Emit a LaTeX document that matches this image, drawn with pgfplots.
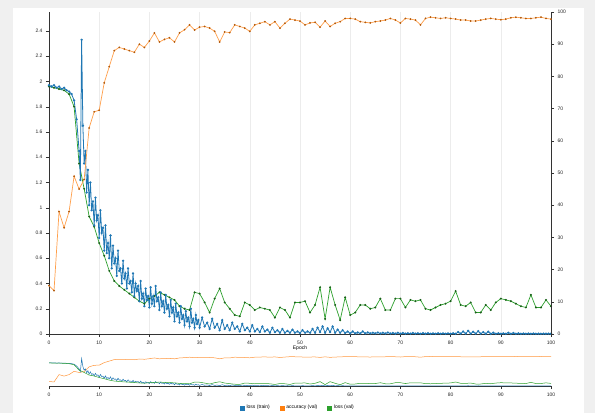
\documentclass[border=0pt]{standalone}
\usepackage{fontspec}
\setmainfont{Liberation Sans}
\usepackage{pgfplots}
\usepackage{pgfplotstable}
\pgfplotsset{compat=1.18}

\definecolor{c3blue}{HTML}{1F77B4}
\definecolor{c3orange}{HTML}{FF7F0E}
\definecolor{c3green}{HTML}{2CA02C}

% training loss, several samples per epoch
\pgfplotstableread{
x y
0 1.97
0.5 1.96
1 1.97
1.5 1.95
2 1.96
2.5 1.94
3 1.95
3.5 1.93
4 1.92
4.5 1.90
5 1.85
5.5 1.70
6 1.45
6.25 1.22
6.5 2.33
6.75 1.65
7 1.35
7.25 1.45
7.5 1.12
7.75 1.30
8 1.02
8.25 1.20
8.5 0.98
8.75 1.05
9 0.86
9.25 1.08
9.5 0.90
9.75 0.94
10 0.76
10.25 0.98
10.5 0.80
10.75 0.84
11 0.66
11.25 0.86
11.5 0.64
11.75 0.72
12 0.60
12.25 0.78
12.5 0.52
12.75 0.70
13 0.56
13.25 0.60
13.5 0.46
13.75 0.66
14 0.50
14.25 0.52
14.5 0.40
14.75 0.58
15 0.44
15.25 0.48
15.5 0.36
15.75 0.52
16 0.40
16.25 0.42
16.5 0.33
16.75 0.48
17 0.30
17.25 0.40
17.5 0.34
17.75 0.38
18 0.26
18.25 0.42
18.5 0.28
18.75 0.32
19 0.22
19.25 0.36
19.5 0.27
19.75 0.30
20 0.21
20.25 0.37
20.5 0.24
20.75 0.30
21 0.22
21.25 0.38
21.5 0.26
21.75 0.29
22 0.19
22.25 0.33
22.5 0.22
22.75 0.26
23 0.17
23.25 0.31
23.5 0.20
23.75 0.23
24 0.14
24.25 0.27
24.5 0.17
24.75 0.21
25 0.10
25.25 0.24
25.5 0.14
25.75 0.17
26 0.09
26.25 0.22
26.5 0.12
26.75 0.15
27 0.07
27.25 0.18
27.5 0.10
27.75 0.13
28 0.06
28.25 0.20
28.5 0.09
28.75 0.12
29 0.05
29.25 0.15
29.5 0.08
29.75 0.11
30 0.05
30.5 0.13
31 0.06
31.5 0.09
32 0.04
32.5 0.12
33 0.05
33.5 0.08
34 0.03
34.5 0.11
35 0.04
35.5 0.07
36 0.03
36.5 0.09
37 0.04
37.5 0.06
38 0.02
38.5 0.08
39 0.03
39.5 0.05
40 0.02
40.5 0.07
41 0.02
41.5 0.04
42 0.015
42.5 0.06
43 0.02
43.5 0.035
44 0.01
44.5 0.05
45 0.015
45.5 0.03
46 0.01
46.5 0.04
47 0.01
47.5 0.025
48 0.01
48.5 0.035
49 0.01
49.5 0.02
50 0.008
50.5 0.03
51 0.01
51.5 0.02
52 0.01
52.5 0.04
53 0.01
53.5 0.05
54 0.015
54.5 0.06
55 0.01
55.5 0.045
56 0.015
56.5 0.06
57 0.01
57.5 0.035
58 0.01
58.5 0.03
59 0.008
59.5 0.02
60 0.005
60.5 0.02
61 0.005
61.5 0.012
62 0.005
62.5 0.02
63 0.005
63.5 0.012
64 0.005
64.5 0.01
65 0.005
65.5 0.012
66 0.004
66.5 0.010
67 0.004
67.5 0.012
68 0.004
68.5 0.008
69 0.003
69.5 0.010
70 0.003
70.5 0.008
71 0.003
71.5 0.006
72 0.003
72.5 0.008
73 0.003
73.5 0.006
74 0.002
74.5 0.007
75 0.002
75.5 0.006
76 0.002
76.5 0.005
77 0.002
77.5 0.006
78 0.002
78.5 0.005
79 0.002
79.5 0.005
80 0.002
80.5 0.006
81 0.002
81.5 0.015
82 0.003
82.5 0.020
83 0.003
83.5 0.025
84 0.003
84.5 0.018
85 0.003
85.5 0.022
86 0.003
86.5 0.015
87 0.002
87.5 0.018
88 0.002
88.5 0.010
89 0.002
89.5 0.006
90 0.002
90.5 0.005
91 0.002
91.5 0.010
92 0.002
92.5 0.008
93 0.002
93.5 0.005
94 0.002
94.5 0.004
95 0.002
95.5 0.004
96 0.002
96.5 0.004
97 0.002
97.5 0.003
98 0.002
98.5 0.003
99 0.002
99.5 0.003
100 0.002
}\losstrain

% validation loss, one per epoch
\pgfplotstableread{
x y
0 1.96
1 1.95
2 1.94
3 1.93
4 1.90
5 1.80
6 1.35
7 1.15
8 0.93
9 0.85
10 0.72
11 0.62
12 0.50
13 0.42
14 0.38
15 0.35
16 0.32
17 0.29
18 0.26
19 0.24
20 0.28
21 0.30
22 0.33
23 0.31
24 0.29
25 0.27
26 0.22
27 0.20
28 0.19
29 0.33
30 0.32
31 0.25
32 0.17
33 0.28
34 0.36
35 0.25
36 0.20
37 0.15
38 0.14
39 0.25
40 0.23
41 0.19
42 0.21
43 0.20
44 0.19
45 0.13
46 0.21
47 0.19
48 0.13
49 0.25
50 0.25
51 0.26
52 0.17
53 0.23
54 0.37
55 0.12
56 0.37
57 0.23
58 0.11
59 0.29
60 0.15
61 0.17
62 0.23
63 0.23
64 0.20
65 0.21
66 0.28
67 0.19
68 0.19
69 0.28
70 0.28
71 0.21
72 0.27
73 0.26
74 0.27
75 0.20
76 0.19
77 0.21
78 0.23
79 0.24
80 0.26
81 0.34
82 0.23
83 0.22
84 0.25
85 0.17
86 0.17
87 0.23
88 0.19
89 0.25
90 0.28
91 0.27
92 0.26
93 0.24
94 0.22
95 0.21
96 0.31
97 0.21
98 0.21
99 0.27
100 0.22
}\lossval

% validation accuracy (%), one per epoch
\pgfplotstableread{
x y
0 15
1 13.5
2 38
3 33
4 38
5 49
6 45
7 48
8 64
9 69
10 69.5
11 78
12 83
13 88
14 89
15 88.5
16 88
17 87.5
18 90
19 89
20 91
21 93.5
22 90.7
23 91.5
24 92
25 90.7
26 93.5
27 94.5
28 96
29 94.4
30 95.3
31 95.5
32 95
33 94
34 90.7
35 93.8
36 93.6
37 96
38 95.5
39 95
40 94
41 96
42 96.5
43 97
44 96
45 97
46 95
47 96.5
48 97.8
49 97.5
50 97.2
51 96
52 96.6
53 96.8
54 95.3
55 97.2
56 95.5
57 96.5
58 97
59 98
60 98
61 97.8
62 97
63 96.8
64 96.6
65 97
66 97.2
67 97.5
68 98
69 97.5
70 96.6
71 98
72 97.8
73 97.5
74 96
75 98
76 98.4
77 98.2
78 98
79 98.2
80 98
81 97.8
82 97.5
83 97.5
84 97.2
85 97.2
86 97.5
87 97.8
88 98
89 97.8
90 97.6
91 97.8
92 98.2
93 98.4
94 98.2
95 98
96 98
97 98.2
98 98.4
99 98
100 97.8
}\accval

\pgfplotsset{
  base/.style={
    scale only axis, width=502pt,
    xmin=0, xmax=100,
    /pgf/number format/assume math mode=true,
    tick label style={font=\fontsize{5}{6}\selectfont, text=black!85},
    label style={font=\fontsize{5}{6}\selectfont},
    axis line style={black!80, line width=0.4pt},
    tick style={black!80, line width=0.4pt},
    tick align=outside, major tick length=3pt,
    xtick={0,10,...,100},
  },
}

\begin{document}
\begin{tikzpicture}[x=1pt,y=1pt]
\fill[gray!12] (0,0) rectangle (595,413);
\fill[white] (13,0) rectangle (584,405);
\useasboundingbox (0,0) rectangle (595,413);

% main chart: loss
\begin{axis}[base, at={(49pt,79pt)}, anchor=south west, height=322pt,
    ymin=0, ymax=2.55,
    axis x line*=bottom, axis y line*=left,
    ytick={0,0.2,0.4,0.6,0.8,1,1.2,1.4,1.6,1.8,2,2.2,2.4},
    xmajorgrids, major grid style={gray!15, line width=0.4pt},
    xlabel={Epoch},
    xlabel style={at={(axis description cs:0.5,0)}, anchor=north, yshift=-8pt},
  ]
  \addplot[c3green, line width=0.7pt, mark=*, mark size=0.6pt,
    mark options={fill=c3green!60!black, draw=c3green!60!black}] table {\lossval};
  \addplot[c3blue, line width=0.8pt, mark=*, mark size=0.7pt] table {\losstrain};
  \node[rotate=90, font=\fontsize{5}{6}\selectfont] at (axis description cs:-0.04,0.5) {Loss};
\end{axis}

% main chart: accuracy
\begin{axis}[base, at={(49pt,79pt)}, anchor=south west, height=322pt,
    ymin=0, ymax=100,
    axis x line=none, axis y line*=right,
    ytick={0,10,...,100},
  ]
  \addplot[c3orange!75, line width=0.7pt, mark=*, mark size=0.5pt,
    mark options={fill=c3orange!70!black, draw=c3orange!70!black}] table {\accval};
  \node[rotate=90, font=\fontsize{5}{6}\selectfont] at (axis description cs:1.058,0.5) {Accuracy (\%)};
\end{axis}

% overview chart: accuracy
\begin{axis}[base, at={(49pt,27pt)}, anchor=south west, height=30pt,
    ymin=0, ymax=100, hide axis]
  \addplot[c3orange!80, line width=0.5pt] table {\accval};
\end{axis}

% overview chart: loss, with the legend
\begin{axis}[base, at={(49pt,27pt)}, anchor=south west, height=30pt,
    ymin=0, ymax=2.55,
    axis x line*=bottom, axis y line=none,
    legend columns=3,
    legend style={at={(axis description cs:0.496,-0.73)}, anchor=center,
      draw=none, fill=none, font=\fontsize{5}{6}\selectfont,
      /tikz/every even column/.append style={column sep=8pt}},
    legend image code/.code={\fill[#1] (0pt,-2pt) rectangle (4pt,2pt);},
  ]
  \addplot[c3blue, line width=0.5pt] table {\losstrain};
  \addlegendentry{loss (train)}
  \addlegendimage{c3orange}
  \addlegendentry{accuracy (val)}
  \addplot[c3green, line width=0.5pt] table {\lossval};
  \addlegendentry{loss (val)}
\end{axis}
\end{tikzpicture}
\end{document}
